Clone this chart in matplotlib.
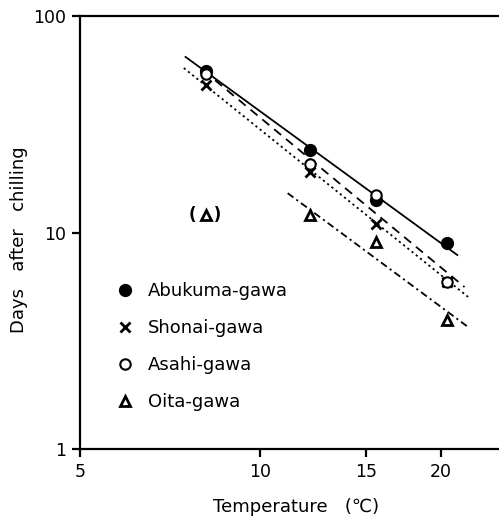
import matplotlib
matplotlib.use('Agg')
import matplotlib.pyplot as plt
from matplotlib.ticker import FixedLocator, FixedFormatter, NullLocator

plt.rcParams['font.family'] = ['DejaVu Sans', 'Noto Sans CJK JP']

# temperatures (C) and days after chilling
temps = [8.1, 12.1, 15.6, 20.5]
abukuma = [56, 24, 14.1, 8.9]
shonai = [48, 19, 10.9, 5.9]
asahi = [54, 20.7, 14.9, 5.9]
oita_temps = [12.1, 15.6, 20.5]
oita = [12, 9, 3.95]
oita_excl = (8.1, 12)   # point shown in brackets

# fitted lines: (x start, x end), (y start, y end)
fit_abukuma = ([7.5, 21.3], [64.7, 7.87])
fit_asahi = ([8.4, 21.9], [50.5, 5.6])
fit_shonai = ([7.45, 22.2], [57.5, 5.04])
fit_oita = ([11.1, 22.2], [15.2, 3.66])

fig = plt.figure(figsize=(4.99, 5.2), dpi=100)
ax = fig.add_axes([80 / 499, 71 / 520, 1 - 80 / 499, (449 - 16) / 520])
ax.set_xscale('log')
ax.set_yscale('log')
ax.set_xlim(5, 25)
ax.set_ylim(1, 100)

ax.plot(*fit_abukuma, color='black', lw=1.3, linestyle='-')
ax.plot(*fit_asahi, color='black', lw=1.3, linestyle=(0, (5, 3.5)))
ax.plot(*fit_shonai, color='black', lw=1.3, linestyle=(0, (1.2, 1.8)))
ax.plot(*fit_oita, color='black', lw=1.3, linestyle=(0, (4, 2, 1.2, 2)))

h1, = ax.plot(temps, abukuma, 'o', color='black', ms=8.5, label='Abukuma-gawa')
h2, = ax.plot(temps, shonai, 'x', color='black', ms=7, mew=2, label='Shonai-gawa')
h3, = ax.plot(temps, asahi, 'o', mfc='white', mec='black', ms=7.5, mew=1.5, label='Asahi-gawa')
h4, = ax.plot(oita_temps, oita, '^', mfc='white', mec='black', ms=6.5, mew=2, label='Oita-gawa')
ax.plot([oita_excl[0]], [oita_excl[1]], '^', mfc='white', mec='black', ms=6.5, mew=2)
ax.text(oita_excl[0], oita_excl[1], '(   )', ha='center', va='center', fontsize=12, fontweight='bold')

leg = ax.legend(handles=[h1, h2, h3, h4], loc='upper left',
                bbox_to_anchor=(107 / 499, 1 - 273 / 520), bbox_transform=fig.transFigure,
                frameon=False, fontsize=13, labelspacing=1.05, handletextpad=0.75,
                handlelength=1.0, borderpad=0)

for s in ['left', 'bottom', 'top']:
    ax.spines[s].set_linewidth(1.6)
ax.spines['right'].set_visible(False)

ax.xaxis.set_major_locator(FixedLocator([5, 10, 15, 20]))
ax.xaxis.set_major_formatter(FixedFormatter(['5', '10', '15', '20']))
ax.xaxis.set_minor_locator(NullLocator())
ax.yaxis.set_major_locator(FixedLocator([1, 10, 100]))
ax.yaxis.set_major_formatter(FixedFormatter(['1', '10', '100']))
ax.yaxis.set_minor_locator(NullLocator())
ax.tick_params(direction='out', length=6, width=1.6, labelsize=12.5, pad=4)

ax.set_xlabel('Temperature   (\u2103)', fontsize=13)
ax.set_ylabel('Days   after   chilling', fontsize=13)
ax.xaxis.set_label_coords((296 - 80) / 419, (449 - 498) / 433)
ax.yaxis.set_label_coords((28 - 80) / 419, (449 - 240) / 433)

fig.savefig('out.png', dpi=100)
